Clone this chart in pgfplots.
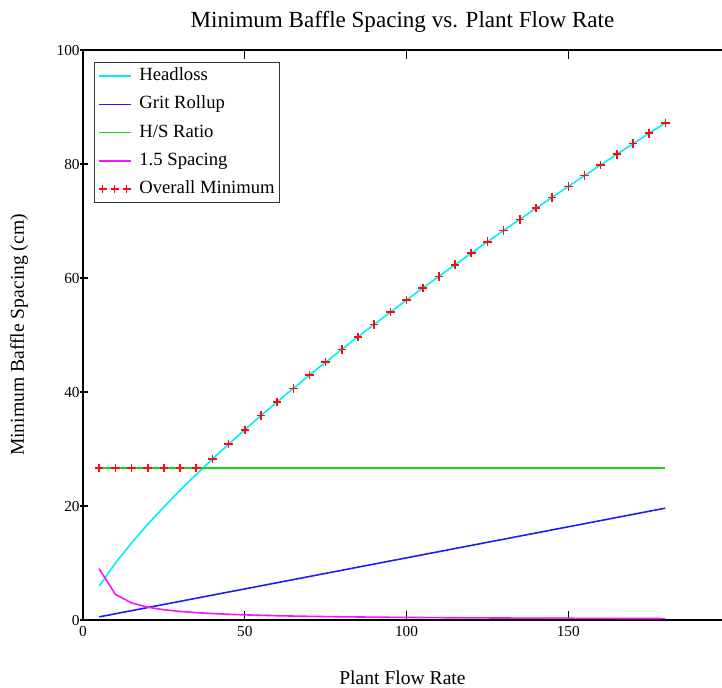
\documentclass[border=0pt]{standalone}
\usepackage{pgfplots}
\pgfplotsset{compat=1.18}
\usepackage{pgfplotstable}
\usepackage{fontspec}
\setmainfont{Liberation Serif}

\definecolor{hlcyan}{RGB}{0,240,250}
\definecolor{gritblue}{RGB}{30,30,245}
\definecolor{hsgreen}{RGB}{20,215,20}
\definecolor{spmag}{RGB}{250,20,250}
\definecolor{minred}{RGB}{255,10,10}

% flow, headloss, grit rollup, H/S ratio, 1.5 spacing, overall minimum
\pgfplotstableread{
q    head   grit   hs    sp     mn
5    5.94   0.55   26.7  9.00   26.7
10   9.98   1.09   26.7  4.50   26.7
15   13.53  1.64   26.7  3.00   26.7
20   16.79  2.18   26.7  2.25   26.7
25   19.84  2.73   26.7  1.80   26.7
30   22.75  3.27   26.7  1.50   26.7
35   25.54  3.82   26.7  1.29   26.7
40   28.23  4.36   26.7  1.13   28.23
45   30.84  4.91   26.7  1.00   30.84
50   33.37  5.45   26.7  0.90   33.37
55   35.85  6.00   26.7  0.82   35.85
60   38.27  6.54   26.7  0.75   38.27
65   40.63  7.09   26.7  0.69   40.63
70   42.96  7.63   26.7  0.64   42.96
75   45.23  8.18   26.7  0.60   45.23
80   47.48  8.72   26.7  0.56   47.48
85   49.68  9.27   26.7  0.53   49.68
90   51.87  9.81   26.7  0.50   51.87
95   54.01  10.36  26.7  0.47   54.01
100  56.13  10.90  26.7  0.45   56.13
105  58.22  11.45  26.7  0.43   58.22
110  60.29  11.99  26.7  0.41   60.29
115  62.33  12.54  26.7  0.39   62.33
120  64.35  13.08  26.7  0.38   64.35
125  66.36  13.63  26.7  0.36   66.36
130  68.33  14.17  26.7  0.35   68.33
135  70.29  14.72  26.7  0.33   70.29
140  72.24  15.26  26.7  0.32   72.24
145  74.15  15.81  26.7  0.31   74.15
150  76.07  16.35  26.7  0.30   76.07
155  77.96  16.90  26.7  0.29   77.96
160  79.85  17.44  26.7  0.28   79.85
165  81.71  17.99  26.7  0.27   81.71
170  83.56  18.53  26.7  0.26   83.56
175  85.39  19.08  26.7  0.26   85.39
180  87.21  19.62  26.7  0.25   87.21
}\flowdata

\begin{document}
\begin{tikzpicture}
\begin{axis}[
    scale only axis,
    width=479.25pt, height=427.5pt,
    xmin=0, xmax=197.5,
    ymin=0, ymax=100,
    xtick={0,50,100,150},
    ytick={0,20,40,60,80,100},
    axis x line*=box,
    axis y line*=left,
    axis line style={black, line width=1.1pt},
    tick align=inside,
    major tick length=6.5pt,
    tick style={black, line width=0.9pt},
    every major y tick/.append style={xshift=-2.5pt},
    tick label style={font=\fontsize{11.5}{13}\selectfont},
    /pgf/number format/assume math mode=true,
    yticklabel style={xshift=1pt},
    xticklabel style={yshift=-1pt},
    title={Minimum Baffle Spacing vs. Plant Flow Rate},
    title style={at={(axis description cs:0.5,1)}, anchor=center, yshift=15pt,
        font=\fontsize{17.3}{20}\selectfont},
    xlabel={Plant Flow Rate},
    xlabel style={at={(axis description cs:0.5,0)}, anchor=center, yshift=-43.5pt,
        font=\fontsize{14.7}{17}\selectfont},
    ylabel={Minimum Baffle Spacing (cm)},
    ylabel style={at={(axis description cs:0,0.5)}, anchor=center, yshift=48pt,
        font=\fontsize{14.7}{17}\selectfont},
    legend cell align=left,
    legend style={at={(axis description cs:0,1)}, anchor=north west,
        xshift=8.25pt, yshift=-9pt,
        draw=black!80, line width=0.9pt,
        font=\fontsize{14}{16}\selectfont,
        inner xsep=2.5pt, inner ysep=3pt, row sep=7pt, column sep=5pt,
        nodes={inner sep=1pt, text height=9.5pt, text depth=2.7pt}},
    legend image code/.code={\draw[#1, line width=1.1pt] (0pt,0pt) -- (24pt,0pt);},
]
\coordinate (sw) at (rel axis cs:0,0);
\coordinate (ne) at (rel axis cs:1,1);
\addplot[hlcyan, line width=1.2pt] table[x=q, y=head] {\flowdata};
\addlegendentry{Headloss}
\addplot[gritblue, line width=1.2pt] table[x=q, y=grit] {\flowdata};
\addlegendentry{Grit Rollup}
\addplot[hsgreen, line width=1.2pt] table[x=q, y=hs] {\flowdata};
\addlegendentry{H/S Ratio}
\addplot[spmag, line width=1.2pt] table[x=q, y=sp] {\flowdata};
\addlegendentry{1.5 Spacing}
\addplot[only marks, mark=+, mark size=3.2pt, minred, line width=1.2pt,
    legend image code/.code={\draw[minred, line width=1.1pt] plot[mark=+, mark size=3pt, only marks] coordinates {(3pt,0pt) (12pt,0pt) (21pt,0pt)};}]
    table[x=q, y=mn] {\flowdata};
\addlegendentry{Overall Minimum}
\end{axis}
\pgfresetboundingbox
\path (sw) ++(-62.25pt,-51pt) coordinate (bl);
\path (ne) ++(0pt,37.5pt) coordinate (tr);
\path[use as bounding box] (bl) rectangle (tr);
\end{tikzpicture}
\end{document}
